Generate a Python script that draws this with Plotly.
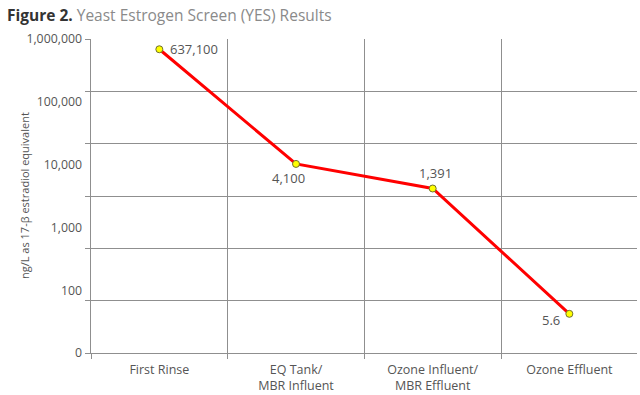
import math
import plotly.graph_objects as go

categories = ["First Rinse", "EQ Tank/<br>MBR Influent", "Ozone Influent/<br>MBR Effluent", "Ozone Effluent"]
values = [637100, 4100, 1391, 5.6]
value_labels = ["637,100", "4,100", "1,391", "5.6"]
y_tick_labels = ["0", "100", "1,000", "10,000", "100,000", "1,000,000"]
grid_decades = [1, 10, 100, 1000, 10000, 100000, 1000000]

GRID = "#8f8f8f"
TXT = "#555555"
FONT = "Open Sans"

fig = go.Figure()
fig.add_trace(go.Scatter(
    x=categories, y=values, mode="lines+markers",
    line=dict(color="#ff0000", width=3),
    marker=dict(color="#ffff00", size=7, line=dict(color="#707030", width=1)),
    showlegend=False, hoverinfo="skip",
))

# label offsets (styling)
offsets = [(9, 0, "left", "middle"), (-8, -3, "center", "top"),
           (3, 5, "center", "bottom"), (-7, -6, "right", "middle")]
for c, v, t, (dx, dy, xa, ya) in zip(categories, values, value_labels, offsets):
    fig.add_annotation(x=c, y=math.log10(v), xref="x", yref="y", text=t, showarrow=False,
                       xanchor=xa, yanchor=ya, xshift=dx, yshift=dy,
                       font=dict(family=FONT, size=13, color=TXT))

# dummy trace for the label axis
fig.add_trace(go.Scatter(x=[categories[0]], y=[1], yaxis="y2", mode="markers",
                         marker=dict(opacity=0), showlegend=False, hoverinfo="skip"))

n = len(y_tick_labels) - 1
label_pos = [10 ** (6 * i / n) for i in range(n + 1)]

fig.update_layout(
    width=640, height=395,
    margin=dict(l=91, r=3, t=39, b=42, autoexpand=False),
    paper_bgcolor="white", plot_bgcolor="white",
    font=dict(family=FONT, color=TXT),
    xaxis=dict(type="category", tickson="boundaries", showgrid=True,
               gridcolor=GRID, gridwidth=1, showline=True, linecolor=GRID,
               ticks="outside", ticklen=5, tickcolor=GRID,
               ticklabelstandoff=5, automargin=False,
               tickfont=dict(family=FONT, size=12.5, color=TXT),
               range=[-0.5, 3.495], fixedrange=True),
    yaxis=dict(type="log", range=[0, 6], tickvals=grid_decades,
               ticktext=[""] * len(grid_decades), showgrid=True,
               gridcolor=GRID, gridwidth=1, showline=True, linecolor=GRID,
               ticks="outside", ticklen=5, tickcolor=GRID, zeroline=False,
               automargin=False),
    yaxis2=dict(type="log", range=[0, 6], overlaying="y", side="left",
                tickvals=label_pos, ticktext=y_tick_labels, showgrid=False,
                showline=False, ticks="", ticklen=0, zeroline=False,
                ticklabelstandoff=8, automargin=False,
                tickfont=dict(family=FONT, size=12.3, color=TXT)),
)

fig.add_annotation(x=0, y=0.5, xref="paper", yref="paper", xshift=-67,
                   text="ng/L as 17-β estradiol equivalent", textangle=-90,
                   showarrow=False, xanchor="center", yanchor="middle",
                   font=dict(family=FONT, size=11, color=TXT))

fig.add_annotation(x=0, y=1, xref="paper", yref="paper", xshift=-86, yshift=37,
                   text="<b>Figure 2.</b> <span style='color:#8a8a8a'>Yeast Estrogen Screen (YES) Results</span>",
                   showarrow=False, xanchor="left", yanchor="top",
                   font=dict(family=FONT, size=15.5, color="#333333"))

fig.write_html("out.html", config={"displayModeBar": False},
               post_script="document.body.style.margin='0';")
